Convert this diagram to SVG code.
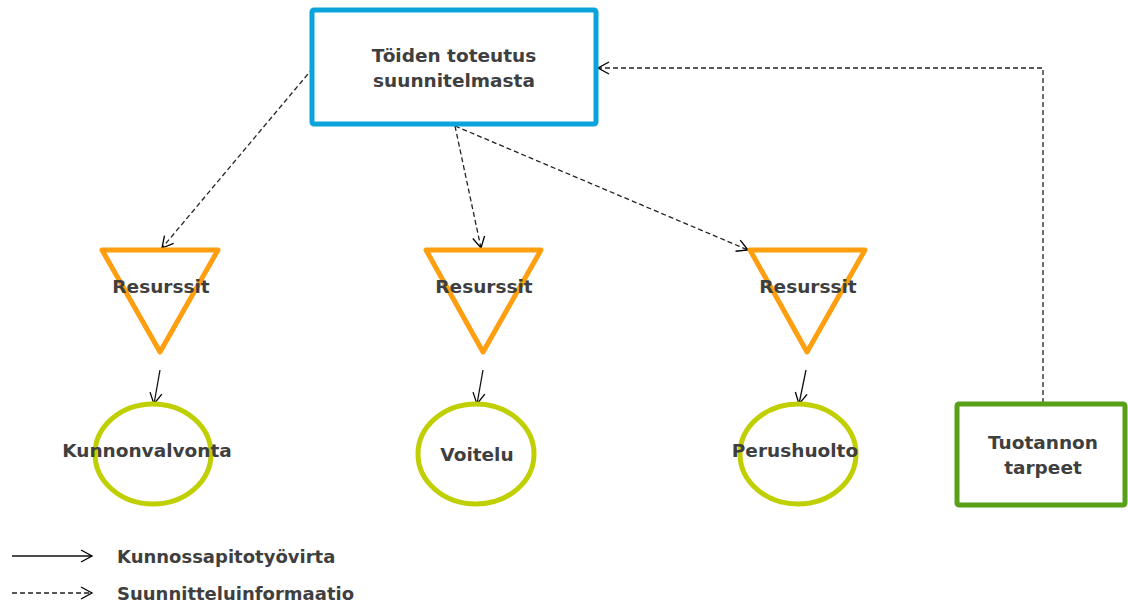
<svg xmlns="http://www.w3.org/2000/svg" width="1128" height="605" viewBox="0 0 1128 605">
<defs>
<marker id="arr" markerWidth="14" markerHeight="14" refX="12" refY="7" orient="auto" markerUnits="userSpaceOnUse">
<path d="M1,1 L12,7 L1,13" fill="none" stroke="#000" stroke-width="1.3"/>
</marker>
<style>
.t{font-family:"DejaVu Sans",Verdana,sans-serif;font-weight:bold;fill:#3f3f3f;text-anchor:middle;font-size:18.5px}
.l{font-family:"DejaVu Sans",Verdana,sans-serif;font-weight:bold;fill:#3f3f3f;font-size:18px}
.d{fill:none;stroke:#222;stroke-width:1.3;stroke-dasharray:5 3}
.s{fill:none;stroke:#111;stroke-width:1.3}
.tri{fill:#fff;stroke:#ff9e0f;stroke-width:5;stroke-linejoin:round}
.ell{fill:#fff;stroke:#bfcf00;stroke-width:5}
</style>
</defs>
<rect width="1128" height="605" fill="#fff"/>
<g id="connectors">
<path class="d" d="M313,68 L162,248" marker-end="url(#arr)"/>
<path class="d" d="M455,126 L481,248" marker-end="url(#arr)"/>
<path class="d" d="M455,126 L748,250" marker-end="url(#arr)"/>
<path class="d" d="M1043,403 L1043,68 L598,68" marker-end="url(#arr)"/>
<path class="s" d="M160,370 L154,404" marker-end="url(#arr)"/>
<path class="s" d="M483,370 L477,404" marker-end="url(#arr)"/>
<path class="s" d="M806,370 L799,404" marker-end="url(#arr)"/>
</g>
<g id="top">
<rect x="312" y="10" width="284" height="114" fill="#fff" stroke="#0aa3dc" stroke-width="5" rx="2"/>
<text class="t" x="454" y="62">Töiden toteutus</text>
<text class="t" x="454" y="87">suunnitelmasta</text>
</g>
<g id="res1"><path class="tri" d="M102,250 L218,250 L160,352 Z"/><text class="t" x="161" y="293">Resurssit</text></g>
<g id="res2"><path class="tri" d="M426,250 L541,250 L483,352 Z"/><text class="t" x="484" y="293">Resurssit</text></g>
<g id="res3"><path class="tri" d="M750,250 L865,250 L807,352 Z"/><text class="t" x="808" y="293">Resurssit</text></g>
<g id="kunnonvalvonta"><ellipse class="ell" cx="153" cy="454" rx="58" ry="50"/><text class="t" x="147" y="457">Kunnonvalvonta</text></g>
<g id="voitelu"><ellipse class="ell" cx="476" cy="454" rx="58" ry="50"/><text class="t" x="477" y="461">Voitelu</text></g>
<g id="perushuolto"><ellipse class="ell" cx="798" cy="454" rx="58" ry="50"/><text class="t" x="795" y="457">Perushuolto</text></g>
<g id="tuotannon">
<rect x="957" y="404" width="168" height="101" fill="#fff" stroke="#58a017" stroke-width="5" rx="2"/>
<text class="t" x="1043" y="449">Tuotannon</text>
<text class="t" x="1043" y="474">tarpeet</text>
</g>
<g id="legend">
<path class="s" d="M12,556 L92,556" marker-end="url(#arr)"/>
<path class="d" d="M12,593 L92,593" marker-end="url(#arr)"/>
<text class="l" x="117" y="563">Kunnossapitotyövirta</text>
<text class="l" x="117" y="600">Suunnitteluinformaatio</text>
</g>
</svg>
